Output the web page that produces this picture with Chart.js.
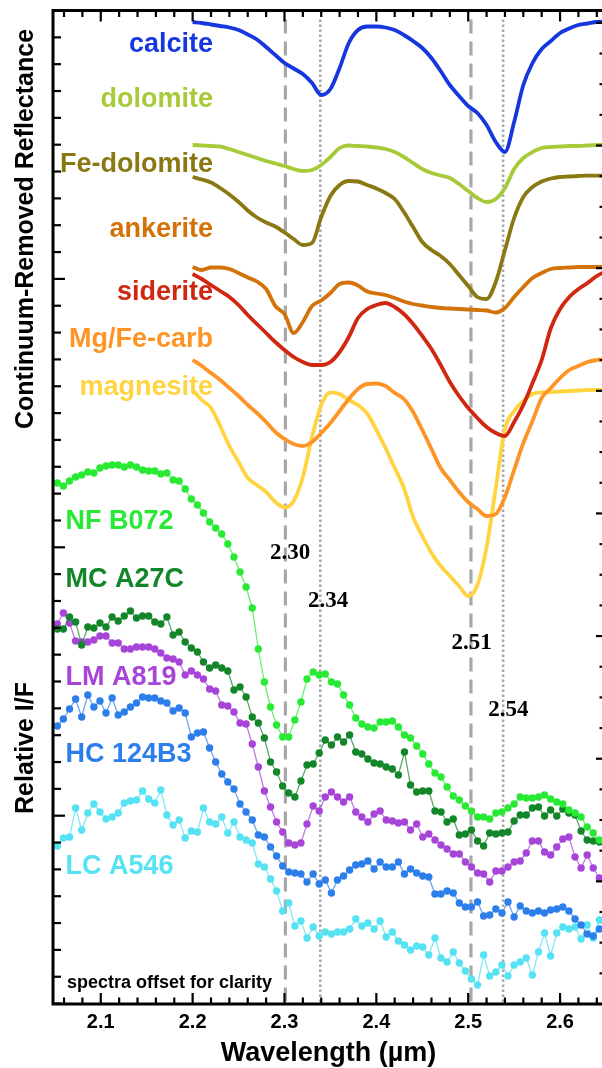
<!DOCTYPE html>
<html>
<head>
<meta charset="utf-8">
<script src="https://cdn.jsdelivr.net/npm/chart.js@4.4.1/dist/chart.umd.min.js"></script>
<style>
html,body{margin:0;padding:0;background:#fff;overflow:hidden;width:602px;height:1068px}
canvas{display:block}
</style>
</head>
<body>
<canvas id="c" width="610" height="1068" style="width:610px;height:1068px"></canvas>
<script>
// ---- library spectra (continuum-removed reflectance, offset) ----
const libWave = [2.20,2.21,2.22,2.23,2.24,2.25,2.26,2.27,2.28,2.29,2.30,2.31,2.32,2.33,2.34,2.35,2.36,2.37,2.38,2.39,2.40,2.41,2.42,2.43,2.44,2.45,2.46,2.47,2.48,2.49,2.50,2.51,2.52,2.53,2.54,2.55,2.56,2.57,2.58,2.59,2.60,2.61,2.62,2.63,2.64,2.65];
const calcite = [9.81,9.80,9.785,9.77,9.755,9.73,9.685,9.635,9.56,9.48,9.40,9.345,9.29,9.20,9.08,9.14,9.35,9.60,9.73,9.765,9.765,9.755,9.73,9.68,9.62,9.55,9.45,9.32,9.18,9.07,8.97,8.90,8.78,8.61,8.51,8.81,9.18,9.40,9.54,9.62,9.70,9.745,9.78,9.795,9.81,9.815];
const dolomite = [8.58,8.575,8.57,8.565,8.54,8.51,8.48,8.45,8.42,8.395,8.37,8.34,8.32,8.33,8.38,8.46,8.55,8.575,8.57,8.565,8.555,8.54,8.51,8.46,8.40,8.34,8.30,8.275,8.25,8.19,8.12,8.05,8.01,8.04,8.15,8.34,8.45,8.51,8.55,8.56,8.565,8.57,8.57,8.575,8.58,8.58];
const feDolomite = [8.26,8.235,8.205,8.15,8.085,8.01,7.925,7.855,7.805,7.765,7.705,7.64,7.58,7.60,7.86,8.07,8.18,8.22,8.215,8.18,8.145,8.10,8.04,7.91,7.76,7.61,7.53,7.47,7.39,7.28,7.17,7.06,7.04,7.21,7.53,7.85,8.06,8.16,8.215,8.245,8.26,8.265,8.27,8.273,8.273,8.273];
const ankerite = [7.36,7.33,7.355,7.355,7.34,7.30,7.255,7.215,7.14,6.97,6.89,6.70,6.81,6.97,7.025,7.10,7.19,7.205,7.175,7.115,7.095,7.08,7.05,7.015,6.99,6.975,6.96,6.95,6.945,6.94,6.935,6.93,6.925,6.905,6.95,7.06,7.16,7.25,7.30,7.34,7.35,7.355,7.36,7.36,7.36,7.36];
const siderite = [7.29,7.24,7.18,7.12,7.06,6.98,6.88,6.79,6.70,6.61,6.53,6.46,6.41,6.38,6.38,6.41,6.51,6.66,6.85,6.94,6.98,7.00,6.96,6.89,6.79,6.67,6.54,6.38,6.21,6.07,5.95,5.85,5.76,5.70,5.67,5.81,5.98,6.20,6.43,6.75,6.94,7.06,7.14,7.20,7.27,7.32];
const mgFeCarb = [6.43,6.37,6.30,6.23,6.15,6.07,5.98,5.90,5.81,5.71,5.64,5.59,5.57,5.61,5.70,5.80,5.92,6.04,6.14,6.19,6.195,6.17,6.10,6.04,5.91,5.73,5.54,5.35,5.23,5.11,5.01,4.94,4.87,4.89,5.06,5.33,5.60,5.82,6.05,6.15,6.25,6.33,6.37,6.41,6.43,6.44];
const magnesite = [6.13,6.03,5.95,5.77,5.57,5.41,5.25,5.18,5.11,5.01,4.955,5.02,5.26,5.66,5.98,6.105,6.09,6.03,5.98,5.895,5.73,5.55,5.35,5.15,4.86,4.67,4.50,4.37,4.27,4.17,4.07,4.18,4.56,5.15,5.74,5.92,6.02,6.09,6.105,6.11,6.115,6.12,6.125,6.13,6.13,6.13];

// ---- CRISM spectra (relative I/F, offset) ----
const crismWave = [2.0527,2.0593,2.0660,2.0726,2.0792,2.0859,2.0925,2.0991,2.1057,2.1124,2.1190,2.1256,2.1323,2.1389,2.1455,2.1522,2.1588,2.1654,2.1720,2.1787,2.1853,2.1919,2.1986,2.2052,2.2118,2.2185,2.2251,2.2317,2.2383,2.2450,2.2516,2.2582,2.2649,2.2715,2.2781,2.2848,2.2914,2.2980,2.3046,2.3113,2.3179,2.3245,2.3312,2.3378,2.3444,2.3511,2.3577,2.3643,2.3709,2.3776,2.3842,2.3908,2.3975,2.4041,2.4107,2.4174,2.4240,2.4306,2.4372,2.4439,2.4505,2.4571,2.4638,2.4704,2.4770,2.4837,2.4903,2.4969,2.5035,2.5102,2.5168,2.5234,2.5301,2.5367,2.5433,2.5500,2.5566,2.5632,2.5698,2.5765,2.5831,2.5897,2.5964,2.6030,2.6096,2.6163,2.6229,2.6295,2.6361,2.6428];
const nfB072 = [5.20,5.17,5.22,5.26,5.28,5.31,5.30,5.35,5.37,5.38, 5.38,5.36,5.38,5.36,5.33,5.32,5.32,5.29,5.30,5.23, 5.22,5.14,5.04,4.98,4.90,4.81,4.75,4.69,4.59,4.46, 4.31,4.16,3.95,3.54,3.21,2.96,2.78,2.66,2.66,2.83, 3.01,3.24,3.31,3.28,3.29,3.21,3.19,3.08,2.98,2.85, 2.79,2.76,2.75,2.81,2.81,2.82,2.76,2.68,2.65,2.57, 2.49,2.39,2.30,2.26,2.16,2.07,2.03,1.97,1.92,1.86, 1.86,1.84,1.90,1.91,1.95,1.99,2.06,2.05,2.05,2.06, 2.08,2.04,2.01,1.99,1.93,1.90,1.86,1.76,1.70,1.63];
const mcA27C = [3.74,3.74,3.86,3.81,3.58,3.76,3.75,3.80,3.76,3.86, 3.82,3.87,3.92,3.85,3.87,3.87,3.81,3.79,3.86,3.68, 3.71,3.61,3.55,3.51,3.41,3.35,3.38,3.35,3.32,3.13, 3.16,3.06,2.86,2.80,2.65,2.41,2.31,2.17,2.10,2.06, 2.22,2.38,2.39,2.50,2.63,2.58,2.66,2.61,2.68,2.51, 2.49,2.44,2.40,2.39,2.36,2.34,2.28,2.51,2.18,2.11, 2.12,2.12,1.92,1.91,1.81,1.84,1.68,1.69,1.73,1.62, 1.57,1.70,1.69,1.70,1.71,1.82,1.88,1.88,1.95,1.96, 1.87,1.93,1.87,1.94,1.90,1.88,1.72,1.63,1.62,1.61];
const lmA819 = [3.79,3.90,3.80,3.62,3.61,3.61,3.63,3.67,3.67,3.60, 3.60,3.54,3.54,3.56,3.56,3.56,3.54,3.50,3.45,3.44, 3.41,3.28,3.32,3.28,3.24,3.14,3.12,2.98,2.97,2.91, 2.80,2.79,2.59,2.36,2.12,1.96,1.81,1.71,1.60,1.58, 1.60,1.79,1.97,1.92,2.06,2.11,2.06,2.01,2.06,1.91, 1.86,1.81,1.89,1.92,1.83,1.82,1.80,1.81,1.73,1.79, 1.66,1.69,1.63,1.58,1.54,1.49,1.49,1.41,1.36,1.30, 1.29,1.21,1.32,1.32,1.36,1.41,1.42,1.50,1.62,1.62, 1.51,1.48,1.56,1.64,1.66,1.46,1.35,1.48,1.35,1.25];
const hc124B3 = [2.77,2.84,2.94,3.04,2.86,3.08,2.96,3.02,2.90,3.05, 2.88,2.91,2.96,3.00,3.06,3.05,3.05,3.02,3.00,2.92, 2.95,2.90,2.66,2.70,2.71,2.55,2.41,2.29,2.21,2.14, 1.99,1.91,1.83,1.68,1.66,1.56,1.47,1.37,1.31,1.30, 1.29,1.21,1.29,1.19,1.23,1.10,1.23,1.27,1.33,1.38, 1.39,1.42,1.34,1.41,1.36,1.36,1.41,1.29,1.34,1.30, 1.27,1.26,1.09,1.09,1.12,1.10,1.00,0.96,0.96,1.01, 0.87,0.88,0.94,0.90,1.01,0.86,0.97,0.92,0.90,0.92, 0.90,0.93,0.94,0.96,0.92,0.84,0.78,0.69,0.67,0.74];
const lcA546 = [1.57,1.65,1.66,1.95,1.73,1.90,1.99,1.91,1.84,1.86, 1.90,2.00,2.02,2.03,2.12,2.04,2.00,2.13,1.88,1.78, 1.83,1.65,1.72,1.71,1.95,1.81,1.79,1.86,1.70,1.81, 1.66,1.63,1.60,1.39,1.36,1.24,1.12,0.92,1.00,0.77, 0.82,0.65,0.76,0.67,0.71,0.69,0.71,0.71,0.74,0.84, 0.77,0.80,0.74,0.82,0.66,0.71,0.62,0.58,0.53,0.57, 0.56,0.48,0.65,0.45,0.41,0.51,0.40,0.32,0.24,0.18, 0.48,0.27,0.31,0.38,0.27,0.38,0.41,0.45,0.28,0.51, 0.70,0.47,0.70,0.76,0.74,0.76,0.64,0.78,0.65,0.83];

// ---- axis / annotation text ----
const xTickValues = [2.1, 2.2, 2.3, 2.4, 2.5, 2.6];
const xTickLabels = ['2.1', '2.2', '2.3', '2.4', '2.5', '2.6'];
const bandCenters = [2.301, 2.339, 2.503, 2.538];
const bandLabels = ['2.30', '2.34', '2.51', '2.54'];

// ---- styles ----
const libNames = ['calcite','dolomite','Fe-dolomite','ankerite','siderite','Mg/Fe-carb','magnesite'];
const libSeries = [calcite, dolomite, feDolomite, ankerite, siderite, mgFeCarb, magnesite];
const libColors = ['#1636DE','#A6CA38','#8A7812','#D4720A','#D02810','#FF9426','#FFD440'];
const crismNames = ['NF B072','MC A27C','LM A819','HC 124B3','LC A546'];
const crismSeries = [nfB072, mcA27C, lmA819, hc124B3, lcA546];
const crismColors = ['#28EA34','#128628','#A645D8','#2C7EEA','#55E2F2'];
const crismLineColors = ['rgba(40,234,52,0.7)','rgba(18,134,40,0.7)','rgba(166,69,216,0.7)','rgba(44,126,234,0.7)','rgba(85,226,242,0.75)'];
// label anchor positions (in data units)
const libLabelPos = [[2.2222,9.58],[2.2222,9.03],[2.2222,8.38],[2.2222,7.73],[2.2222,7.10],[2.2222,6.63],[2.2222,6.15]];
const crismLabelPos = [[2.0616,4.81],[2.0616,4.23],[2.0616,3.25],[2.0616,2.48],[2.0616,1.36]];
const bandLabelPos = [[2.306,4.50],[2.3474,4.02],[2.5038,3.60],[2.5437,2.93]];
const bandLineStyle = [
  {dash:[14,8], width:3.2, color:'#A8A8A8'},
  {dash:[2.6,2.4], width:2.6, color:'#A8A8A8'},
  {dash:[14,8], width:3.2, color:'#A8A8A8'},
  {dash:[2.6,2.4], width:2.6, color:'#A8A8A8'}
];

const SANS = '"Liberation Sans", Arial, Helvetica, sans-serif';
const SERIF = '"Liberation Serif", "Times New Roman", serif';

const datasets = [];
crismSeries.forEach((arr, i) => {
  datasets.push({
    label: crismNames[i],
    data: crismWave.map((w, k) => ({x: w, y: arr[k]})),
    borderColor: crismLineColors[i],
    borderWidth: 1.3,
    pointRadius: 3.7,
    pointBackgroundColor: crismColors[i],
    pointBorderWidth: 0,
    pointBorderColor: crismColors[i],
    fill: false,
    tension: 0
  });
});
libSeries.forEach((arr, i) => {
  datasets.push({
    label: libNames[i],
    data: libWave.map((w, k) => ({x: w, y: arr[k]})),
    borderColor: libColors[i],
    borderWidth: 3.8,
    pointRadius: 0,
    fill: false,
    cubicInterpolationMode: 'monotone'
  });
});

const framePlugin = {
  id: 'frame',
  beforeDraw(chart) {
    const c = chart.ctx;
    c.save(); c.fillStyle = '#fff'; c.fillRect(0, 0, chart.width, chart.height); c.restore();
  },
  beforeDatasetsDraw(chart) {
    const ctx = chart.ctx, a = chart.chartArea, x = chart.scales.x;
    ctx.save();
    bandCenters.forEach((w, i) => {
      const st = bandLineStyle[i];
      const px = x.getPixelForValue(w);
      ctx.strokeStyle = st.color; ctx.lineWidth = st.width; ctx.setLineDash(st.dash);
      ctx.beginPath(); ctx.moveTo(px, a.top + 9); ctx.lineTo(px, a.bottom); ctx.stroke();
    });
    ctx.restore();
  },
  afterDatasetsDraw(chart) {
    const ctx = chart.ctx, a = chart.chartArea, x = chart.scales.x, y = chart.scales.y;
    ctx.save();
    ctx.setLineDash([]);
    ctx.strokeStyle = '#000';
    // frame
    ctx.lineWidth = 3;
    ctx.beginPath();
    ctx.moveTo(a.left, a.top); ctx.lineTo(a.right, a.top); ctx.lineTo(a.right, a.bottom);
    ctx.lineTo(a.left, a.bottom); ctx.closePath(); ctx.stroke();
    // x ticks (every 0.02, major every 0.1), inward on top and bottom
    ctx.lineWidth = 2.2;
    for (let k = 0; k <= 29; k++) {
      const px = x.getPixelForValue(2.06 + 0.02 * k);
      const L = (k % 5 === 2) ? 11 : 6.5;
      ctx.beginPath();
      ctx.moveTo(px, a.top); ctx.lineTo(px, a.top + L);
      ctx.moveTo(px, a.bottom); ctx.lineTo(px, a.bottom - L);
      ctx.stroke();
    }
    // left ticks
    for (let n = 0; n <= 37; n++) {
      const py = y.getPixelForValue(y.max - 0.2684 * n);
      const L = (n % 10 === 0) ? 12 : 8;
      ctx.beginPath(); ctx.moveTo(a.left, py); ctx.lineTo(a.left + L, py); ctx.stroke();
    }
    // right ticks
    for (let k = 0; k <= 32; k++) {
      const py = y.getPixelForValue(y.min + 0.3066 * k);
      const L = (k % 4 === 0) ? 10 : 6.5;
      ctx.beginPath(); ctx.moveTo(a.right, py); ctx.lineTo(a.right - L, py); ctx.stroke();
    }
    // x tick labels
    ctx.fillStyle = '#000';
    ctx.font = 'bold 20px ' + SANS;
    ctx.textAlign = 'center'; ctx.textBaseline = 'middle';
    xTickValues.forEach((v, i) => ctx.fillText(xTickLabels[i], x.getPixelForValue(v), a.bottom + 18));
    // x title
    ctx.font = 'bold 27px ' + SANS;
    ctx.fillText('Wavelength (µm)', (a.left + a.right) / 2 - 1, a.bottom + 50);
    // y titles
    ctx.font = 'bold 25px ' + SANS;
    ctx.save(); ctx.translate(26, 229); ctx.rotate(-Math.PI / 2); ctx.fillText('Continuum-Removed Reflectance', 0, 0); ctx.restore();
    ctx.save(); ctx.translate(26, 748); ctx.rotate(-Math.PI / 2); ctx.fillText('Relative I/F', 0, 0); ctx.restore();
    // library labels
    ctx.font = 'bold 27px ' + SANS;
    ctx.textAlign = 'right';
    libNames.forEach((t, i) => {
      ctx.fillStyle = libColors[i];
      ctx.fillText(t, x.getPixelForValue(libLabelPos[i][0]), y.getPixelForValue(libLabelPos[i][1]));
    });
    ctx.textAlign = 'left';
    crismNames.forEach((t, i) => {
      ctx.fillStyle = crismColors[i];
      ctx.fillText(t, x.getPixelForValue(crismLabelPos[i][0]), y.getPixelForValue(crismLabelPos[i][1]));
    });
    // band labels
    ctx.fillStyle = '#000';
    ctx.textAlign = 'center';
    ctx.font = 'bold 23px ' + SERIF;
    bandLabels.forEach((t, i) => ctx.fillText(t, x.getPixelForValue(bandLabelPos[i][0]), y.getPixelForValue(bandLabelPos[i][1])));
    // note
    ctx.textAlign = 'left';
    ctx.font = 'bold 18px ' + SANS;
    ctx.fillText('spectra offset for clarity', x.getPixelForValue(2.0632), y.getPixelForValue(0.20));
    ctx.restore();
  }
};

new Chart(document.getElementById('c'), {
  type: 'line',
  data: { datasets },
  options: {
    responsive: false,
    devicePixelRatio: 1,
    animation: false,
    layout: { padding: { left: 53, top: 10.5, right: 4, bottom: 64 } },
    plugins: { legend: { display: false }, tooltip: { enabled: false }, title: { display: false } },
    scales: {
      x: { type: 'linear', min: 2.048, max: 2.65, display: false },
      y: { type: 'linear', min: -0.01, max: 9.925, display: false }
    }
  },
  plugins: [framePlugin]
});
</script>
</body>
</html>
